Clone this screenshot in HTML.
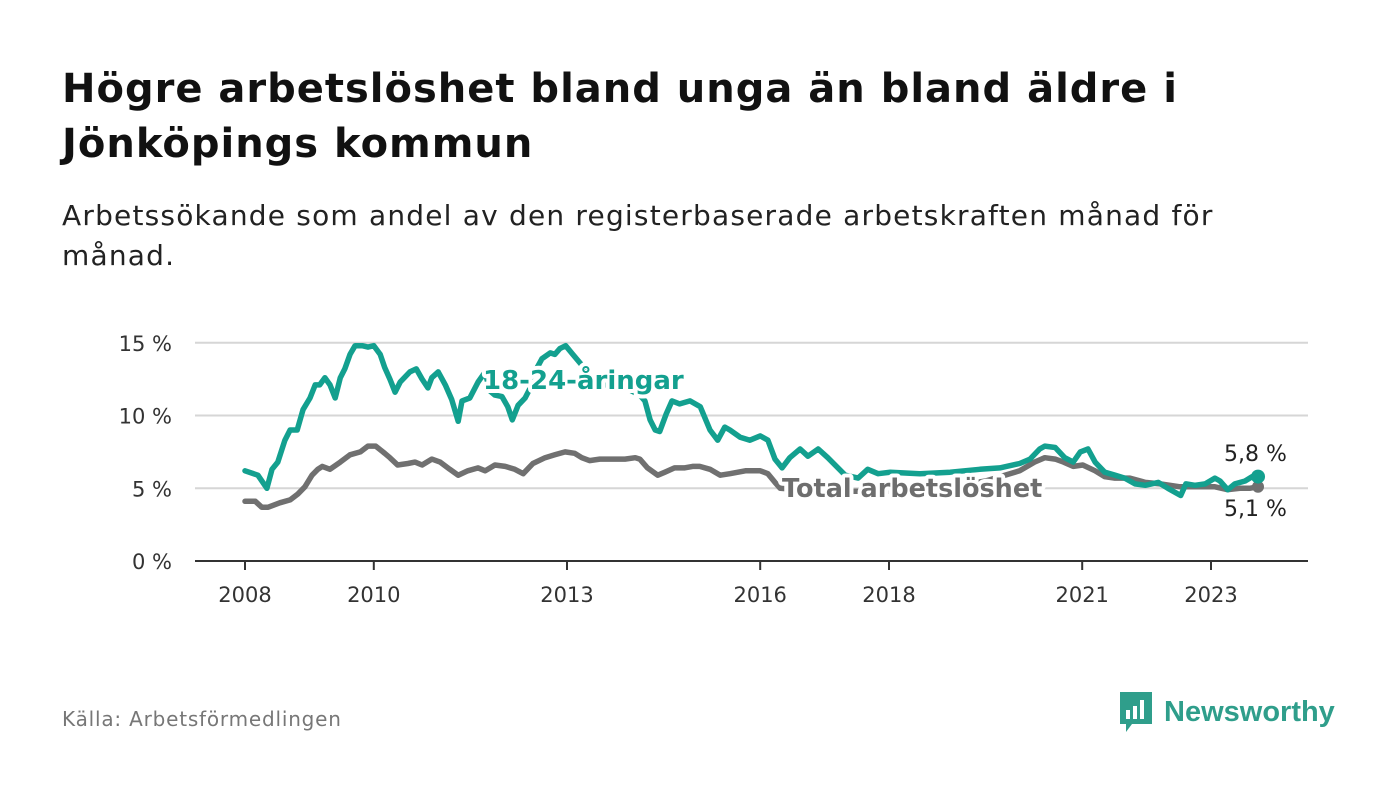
<!DOCTYPE html>
<html><head><meta charset="utf-8"><style>
body{margin:0;width:1400px;height:794px;background:#fff;font-family:"DejaVu Sans","Liberation Sans",sans-serif;overflow:hidden;position:relative}
#title{position:absolute;left:62px;top:62px;margin:0;font-size:40px;letter-spacing:1px;line-height:55px;font-weight:bold;color:#111}
#sub{position:absolute;left:62px;top:196px;margin:0;font-size:28px;letter-spacing:1.2px;line-height:40px;color:#222}
#src{position:absolute;left:62px;top:707px;font-size:20px;letter-spacing:0.8px;color:#777}
#logo{position:absolute;left:1118px;top:690px;display:flex;align-items:center;gap:10px;color:#2f9e8b;font-size:29px;font-weight:bold;font-family:"Liberation Sans",sans-serif}
</style></head><body>
<h1 id="title">Högre arbetslöshet bland unga än bland äldre i<br>Jönköpings kommun</h1>
<p id="sub">Arbetssökande som andel av den registerbaserade arbetskraften månad för<br>månad.</p>
<svg id="chart" width="1400" height="794" style="position:absolute;left:0;top:0"></svg>
<div id="src">Källa: Arbetsförmedlingen</div>
<div id="logo"><svg width="36" height="44" viewBox="0 0 36 44"><path d="M2 2h32v32H14l-6 8v-8H2z" fill="#2f9e8b"/><rect x="8" y="20" width="4" height="9" fill="#fff"/><rect x="15" y="16" width="4" height="13" fill="#fff"/><rect x="22" y="10" width="4" height="19" fill="#fff"/></svg><span>Newsworthy</span></div>
<script>
const yTicks=[0,5,10,15];
const yTickLabels=["0 %","5 %","10 %","15 %"];
const xTicks=[2008,2010,2013,2016,2018,2021,2023];
const youthDates=[2008.00,2008.20,2008.34,2008.42,2008.51,2008.62,2008.70,2008.81,2008.90,2009.01,2009.09,2009.16,2009.24,2009.32,2009.40,2009.48,2009.55,2009.63,2009.71,2009.82,2009.91,2010.00,2010.10,2010.17,2010.25,2010.33,2010.41,2010.56,2010.66,2010.75,2010.84,2010.90,2011.00,2011.11,2011.21,2011.31,2011.37,2011.49,2011.62,2011.73,2011.80,2011.88,2011.99,2012.08,2012.15,2012.24,2012.35,2012.43,2012.50,2012.61,2012.74,2012.81,2012.89,2012.98,2013.09,2013.28,2013.51,2013.82,2014.13,2014.21,2014.29,2014.37,2014.44,2014.54,2014.63,2014.75,2014.91,2015.07,2015.22,2015.34,2015.45,2015.53,2015.69,2015.84,2016.00,2016.12,2016.23,2016.34,2016.46,2016.62,2016.74,2016.90,2017.05,2017.32,2017.52,2017.67,2017.83,2018.02,2018.48,2018.95,2019.41,2019.72,2020.03,2020.19,2020.34,2020.42,2020.58,2020.73,2020.86,2020.97,2021.09,2021.20,2021.35,2021.51,2021.66,2021.82,2021.98,2022.18,2022.33,2022.49,2022.53,2022.61,2022.75,2022.91,2023.06,2023.14,2023.26,2023.37,2023.53,2023.64,2023.73];
const youthValues=[6.2,5.9,5.0,6.3,6.8,8.3,9.0,9.0,10.4,11.2,12.1,12.1,12.6,12.1,11.2,12.6,13.2,14.2,14.8,14.8,14.7,14.8,14.2,13.3,12.5,11.6,12.3,13.0,13.2,12.5,11.9,12.6,13.0,12.1,11.1,9.6,11.0,11.2,12.3,13.0,11.7,11.4,11.3,10.6,9.7,10.7,11.2,11.9,13.0,13.9,14.3,14.2,14.6,14.8,14.2,13.2,12.1,12.1,11.4,11.0,9.7,9.0,8.9,10.1,11.0,10.8,11.0,10.6,9.0,8.3,9.2,9.0,8.5,8.3,8.6,8.3,7.0,6.4,7.1,7.7,7.2,7.7,7.1,5.9,5.7,6.3,6.0,6.1,6.0,6.1,6.3,6.4,6.7,7.0,7.7,7.9,7.8,7.1,6.8,7.5,7.7,6.8,6.1,5.9,5.7,5.3,5.2,5.4,5.0,4.6,4.5,5.3,5.2,5.3,5.7,5.5,4.9,5.3,5.5,5.8,5.8];
const totalDates=[2008.00,2008.16,2008.26,2008.36,2008.54,2008.70,2008.82,2008.93,2009.04,2009.13,2009.20,2009.32,2009.48,2009.63,2009.79,2009.91,2010.03,2010.17,2010.25,2010.37,2010.53,2010.64,2010.75,2010.90,2011.03,2011.18,2011.31,2011.46,2011.62,2011.73,2011.88,2012.04,2012.19,2012.32,2012.47,2012.66,2012.81,2012.97,2013.12,2013.23,2013.35,2013.51,2013.66,2013.90,2014.06,2014.13,2014.25,2014.41,2014.52,2014.67,2014.82,2014.95,2015.06,2015.22,2015.38,2015.53,2015.77,2016.00,2016.12,2016.23,2016.31,2016.62,2017.40,2018.00,2018.80,2019.50,2020.03,2020.26,2020.42,2020.58,2020.71,2020.86,2021.01,2021.20,2021.35,2021.51,2021.74,2021.98,2022.21,2022.52,2022.83,2023.06,2023.26,2023.45,2023.60,2023.73];
const totalValues=[4.1,4.1,3.7,3.7,4.0,4.2,4.6,5.1,5.9,6.3,6.5,6.3,6.8,7.3,7.5,7.9,7.9,7.4,7.1,6.6,6.7,6.8,6.6,7.0,6.8,6.3,5.9,6.2,6.4,6.2,6.6,6.5,6.3,6.0,6.7,7.1,7.3,7.5,7.4,7.1,6.9,7.0,7.0,7.0,7.1,7.0,6.4,5.9,6.1,6.4,6.4,6.5,6.5,6.3,5.9,6.0,6.2,6.2,6.0,5.4,5.0,4.9,4.8,4.8,5.0,5.5,6.2,6.8,7.1,7.0,6.8,6.5,6.6,6.2,5.8,5.7,5.7,5.4,5.3,5.1,5.1,5.1,4.9,5.0,5.0,5.1];
const NS="http://www.w3.org/2000/svg";
const svg=document.getElementById('chart');
const X=t=>245+(t-2008)*64.4;
const Y=v=>561-v*14.55;
function mk(tag,attrs,parent){const e=document.createElementNS(NS,tag);for(const k in attrs)e.setAttribute(k,attrs[k]);(parent||svg).appendChild(e);return e;}
yTicks.forEach((v,i)=>{
  if(v>0){const g=mk('line',{x1:195,x2:1308,y1:Y(v),y2:Y(v),stroke:'#d6d6d6','stroke-width':2});
  
  }
  const t=mk('text',{x:172,y:Y(v)+8,'text-anchor':'end','font-size':21,fill:'#333'});t.textContent=yTickLabels[i];
  
  
});
const ax=mk('line',{x1:195,x2:1308,y1:561,y2:561,stroke:'#333','stroke-width':2});


xTicks.forEach(yr=>{
  mk('line',{x1:X(yr),x2:X(yr),y1:561,y2:570,stroke:'#333','stroke-width':2});
  const t=mk('text',{x:X(yr),y:602,'text-anchor':'middle','font-size':21,fill:'#333'});t.textContent=yr;
  
  
});
function line(d,v,col,name){const p=d.map((t,i)=>(i?'L':'M')+X(t).toFixed(1)+','+Y(v[i]).toFixed(1)).join('');
 const e=mk('path',{d:p,fill:'none',stroke:col,'stroke-width':5.5,'stroke-linejoin':'round','stroke-linecap':'round'});
 
 }
line(totalDates,totalValues,'#707070','total-line');
line(youthDates,youthValues,'#13a08f','youth-line');
function lab(x,y,txt,col,name,size,bold){const t=mk('text',{x:x,y:y,'font-size':size,fill:col,'font-weight':bold?'bold':'normal',stroke:'#fff','stroke-width':bold?8:0,'paint-order':'stroke','stroke-linejoin':'round'});t.textContent=txt;
 
 }
lab(483,389,'18-24-åringar','#13a08f','youth-series-label',26,true);
lab(782,497,'Total arbetslöshet','#6e6e6e','total-series-label',25.5,true);
const ly=youthValues.length-1, lt=totalValues.length-1;
const d2=mk('circle',{cx:X(totalDates[lt]),cy:Y(totalValues[lt]),r:6,fill:'#707070'});


const d1=mk('circle',{cx:X(youthDates[ly]),cy:Y(youthValues[ly]),r:7,fill:'#13a08f'});


lab(1224,461,youthValues[ly].toFixed(1).replace('.',',')+' %','#222','youth-end-value',22,false);
lab(1224,516,totalValues[lt].toFixed(1).replace('.',',')+' %','#222','total-end-value',22,false);
</script>
</body></html>
